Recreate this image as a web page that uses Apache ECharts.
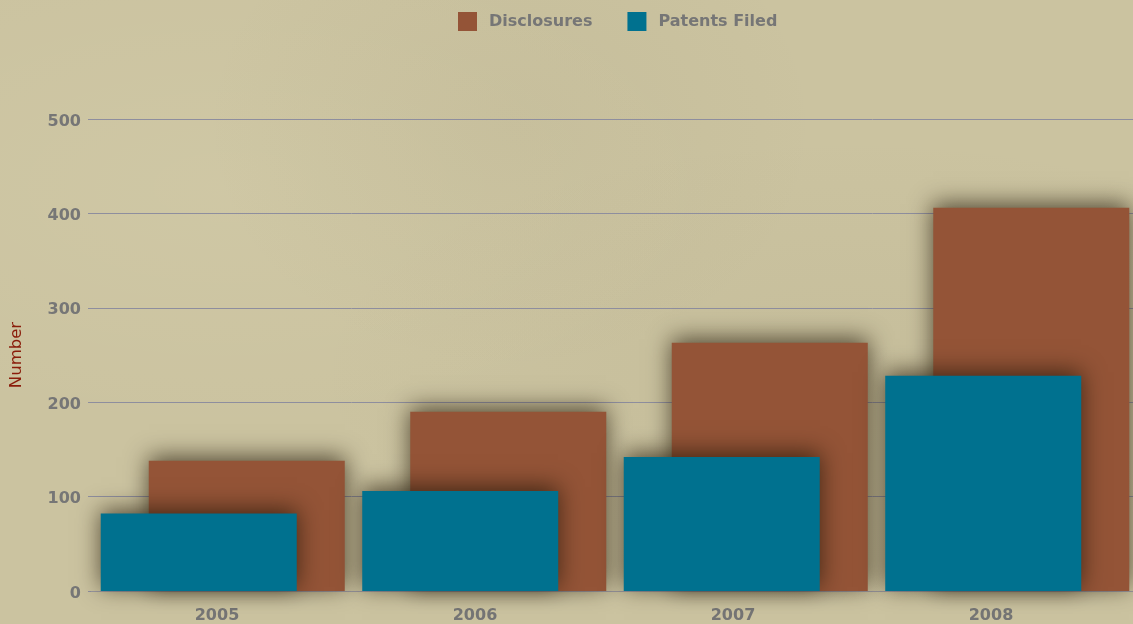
<!doctype html>
<html>
<head>
<meta charset="UTF-8">
<title>Disclosures and Patents</title>
<script src="https://cdn.jsdelivr.net/npm/echarts@6/dist/echarts.min.js"></script>
<style>
  html, body { margin: 0; padding: 0; }
  body {
    width: 1133px; height: 624px; overflow: hidden;
    background-color: #cbc3a0;
    background-image:
      radial-gradient(ellipse at 20% 30%, rgba(255,250,220,0.08), rgba(255,250,220,0) 40%),
      radial-gradient(ellipse at 75% 60%, rgba(120,110,80,0.06), rgba(120,110,80,0) 45%),
      radial-gradient(ellipse at 45% 20%, rgba(110,100,70,0.06), rgba(110,100,70,0) 35%);
  }
  /* a bit wider than the window: the last bar runs past the right edge */
  #chart { width: 1140px; height: 624px; }
</style>
</head>
<body>
<div id="chart"></div>
<script>
  // data
  var years = ['2005', '2006', '2007', '2008'];
  var disclosures = [138, 190, 263, 406];
  var patentsFiled = [82, 106, 142, 228];
  var yTicks = { min: 0, max: 500, step: 100 };

  var brown = '#945437';
  var teal = '#00718f';
  var grey = '#767676';
  var font = 'DejaVu Sans';

  var chart = echarts.init(document.getElementById('chart'));

  var barShadow = {
    shadowBlur: 22,
    shadowColor: 'rgba(30,20,5,0.7)',
    shadowOffsetX: 0,
    shadowOffsetY: -4
  };

  var option = {
    backgroundColor: 'transparent',
    animation: false,
    legend: {
      data: ['Disclosures', 'Patents Filed'],
      left: 453,
      top: 7,
      icon: 'rect',
      itemWidth: 19,
      itemHeight: 19,
      itemGap: 35,
      textStyle: { color: grey, fontFamily: font, fontSize: 16, fontWeight: 'bold', padding: [0, 0, 0, 7] }
    },
    grid: [
      // axes + grid lines
      { left: 88, right: 7, top: 119, bottom: 33 },
      // year labels
      { left: 88, right: 20, top: 119, bottom: 33 },
      // bars
      { left: 92, right: 2, top: 119, bottom: 33 }
    ],
    xAxis: [
      {
        gridIndex: 0, type: 'category', data: years,
        axisLine: { show: true, lineStyle: { color: '#9a98a0', width: 1 } },
        axisTick: { show: false }, axisLabel: { show: false }
      },
      {
        gridIndex: 1, type: 'category', data: years,
        axisLine: { show: false }, axisTick: { show: false },
        axisLabel: { color: grey, fontFamily: font, fontSize: 16, fontWeight: 'bold', margin: 18 }
      },
      {
        gridIndex: 2, type: 'category', data: years, show: false
      }
    ],
    yAxis: [
      {
        gridIndex: 0, type: 'value',
        min: yTicks.min, max: yTicks.max, interval: yTicks.step,
        name: 'Number', nameLocation: 'middle', nameGap: 66, nameRotate: 90,
        nameTextStyle: { color: '#8a1c0a', fontFamily: font, fontSize: 16.5 },
        axisLine: { show: false },
        axisTick: { show: true, length: 3, lineStyle: { color: '#8e8e9e' } },
        axisLabel: {
          margin: 10,
          formatter: '{v|{value}}',
          rich: { v: { color: grey, fontFamily: font, fontSize: 16, fontWeight: 'bold', padding: [5, 0, 0, 0] } }
        },
        splitLine: { show: true, lineStyle: { color: '#8e8e9e', width: 1 } }
      },
      {
        gridIndex: 1, type: 'value', min: yTicks.min, max: yTicks.max, show: false
      },
      {
        gridIndex: 2, type: 'value', min: yTicks.min, max: yTicks.max, show: false
      }
    ],
    series: [
      {
        name: 'Patents Filed', type: 'bar', xAxisIndex: 2, yAxisIndex: 2,
        data: patentsFiled, barWidth: 196, barGap: '-75.5%', z: 4,
        itemStyle: Object.assign({ color: teal }, barShadow)
      },
      {
        name: 'Disclosures', type: 'bar', xAxisIndex: 2, yAxisIndex: 2,
        data: disclosures, barWidth: 196, barGap: '-75.5%', z: 3,
        itemStyle: Object.assign({ color: brown }, barShadow)
      }
    ]
  };

  chart.setOption(option);
</script>
</body>
</html>
